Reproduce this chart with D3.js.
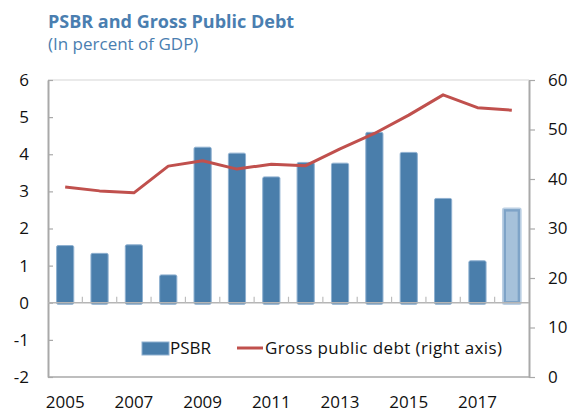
<!DOCTYPE html>
<html>
<head>
<meta charset="utf-8">
<script src="https://cdn.jsdelivr.net/npm/d3@7"></script>
<style>
  html, body { margin: 0; padding: 0; background: #fff; }
  svg { display: block; font-family: "Open Sans", "Noto Sans", sans-serif; }
</style>
</head>
<body>
<svg id="chart" width="568" height="413"></svg>
<script>
// Public sector borrowing requirement and gross public debt, percent of GDP
const years = [2005, 2006, 2007, 2008, 2009, 2010, 2011, 2012, 2013, 2014, 2015, 2016, 2017, 2018];
const psbr = [1.54, 1.33, 1.56, 0.75, 4.19, 4.03, 3.39, 3.78, 3.76, 4.59, 4.05, 2.81, 1.13, 2.53];
const grossDebt = [38.4, 37.6, 37.2, 42.6, 43.7, 42.0, 43.0, 42.7, 46.1, 49.2, 52.9, 57.0, 54.4, 53.9];
const projectionYears = [2018];
const leftTicks = [-2, -1, 0, 1, 2, 3, 4, 5, 6];
const rightTicks = [0, 10, 20, 30, 40, 50, 60];
const xTickLabels = [2005, 2007, 2009, 2011, 2013, 2015, 2017];

const svg = d3.select("#chart");
const W = 568, H = 413;
const m = { top: 80, right: 39, bottom: 36, left: 48 };
const x0 = m.left, x1 = W - m.right, y0 = H - m.bottom, y1 = m.top;

const x = d3.scaleBand().domain(years).range([x0, x1]).paddingInner(0.5).paddingOuter(0.25);
const yL = d3.scaleLinear().domain([-2, 6]).range([y0, y1]);
const yR = d3.scaleLinear().domain([0, 60]).range([y0, y1]);

const axisColor = "#a9a9a9";
const blue = "#4a7eab";
const red = "#c0504d";
const fontStack = "\"Open Sans\", \"Noto Sans\", sans-serif";
const labelSize = 17;

// Title
svg.append("text").attr("x", 48).attr("y", 28)
  .attr("fill", "#4a7eb0").attr("font-size", 18).attr("font-weight", "bold")
  .text("PSBR and Gross Public Debt");
svg.append("text").attr("x", 48).attr("y", 50)
  .attr("fill", "#4a7eb0").attr("font-size", 17)
  .text("(In percent of GDP)");

// Plot frame: light top border, bottom border
svg.append("line").attr("x1", x0).attr("x2", x1).attr("y1", y1).attr("y2", y1)
  .attr("stroke", "#e3e3e3").attr("stroke-width", 1.5);
svg.append("line").attr("x1", x0).attr("x2", x1).attr("y1", y0).attr("y2", y0)
  .attr("stroke", axisColor).attr("stroke-width", 1.5);

// Left axis
const gL = svg.append("g").attr("transform", `translate(${x0},0)`)
  .call(d3.axisLeft(yL).tickValues(leftTicks).tickSize(-5).tickSizeOuter(0).tickPadding(19).tickFormat(d3.format("d")));
gL.select(".domain").attr("stroke", axisColor).attr("stroke-width", 2);
gL.selectAll(".tick line").attr("stroke", axisColor).attr("stroke-width", 1.2);
gL.selectAll(".tick text").attr("font-size", labelSize).attr("fill", "#111")
  .attr("font-family", fontStack)
  .text(d => d < 0 ? "-" + Math.abs(d) : d);

// Right axis
const gR = svg.append("g").attr("transform", `translate(${x1},0)`)
  .call(d3.axisRight(yR).tickValues(rightTicks).tickSize(6).tickSizeOuter(0).tickPadding(13));
gR.select(".domain").attr("stroke", axisColor).attr("stroke-width", 2);
gR.selectAll(".tick line").attr("stroke", axisColor).attr("stroke-width", 1.2);
gR.selectAll(".tick text").attr("font-size", labelSize).attr("fill", "#111")
  .attr("font-family", fontStack);

// Year labels along the bottom
const gX = svg.append("g").attr("transform", `translate(0,${y0})`)
  .call(d3.axisBottom(x).tickValues(xTickLabels).tickSize(0).tickPadding(19));
gX.select(".domain").remove();
gX.selectAll(".tick text").attr("font-size", labelSize).attr("fill", "#111")
  .attr("font-family", fontStack);

// Bars
const bw = x.bandwidth();
svg.append("g").selectAll("rect.bar")
  .data(years.map((yr, i) => ({ yr, v: psbr[i] })).filter(d => !projectionYears.includes(d.yr)))
  .join("rect")
  .attr("class", "bar")
  .attr("x", d => x(d.yr))
  .attr("y", d => Math.min(yL(d.v), yL(0)))
  .attr("width", bw)
  .attr("height", d => Math.abs(yL(0) - yL(d.v)) + 1.5)
  .attr("rx", 1.5)
  .attr("fill", blue)
  .attr("stroke", "#8eb0d0").attr("stroke-width", 1);

// Projected bar
const proj = years.map((yr, i) => ({ yr, v: psbr[i] })).filter(d => projectionYears.includes(d.yr));
const pg = svg.append("g");
pg.selectAll("rect.outer").data(proj).join("rect")
  .attr("x", d => x(d.yr) - 0.5).attr("y", d => yL(d.v) - 0.5)
  .attr("width", bw + 1).attr("height", d => yL(0) - yL(d.v) + 2)
  .attr("fill", "none").attr("stroke", "#bcd0e4").attr("stroke-width", 1.5).attr("rx", 1.5);
pg.selectAll("rect.inner").data(proj).join("rect")
  .attr("x", d => x(d.yr) + 1.5).attr("y", d => yL(d.v) + 1.5)
  .attr("width", bw - 3).attr("height", d => yL(0) - yL(d.v) - 2)
  .attr("fill", "#a6c1da").attr("stroke", "#7ea3c7").attr("stroke-width", 2.5);

// Zero line with category separators
svg.append("line").attr("x1", x0).attr("x2", x1).attr("y1", yL(0)).attr("y2", yL(0))
  .attr("stroke", "#b5b5b5").attr("stroke-width", 1.5);
svg.append("g").selectAll("line").data(years.slice(1)).join("line")
  .attr("x1", d => x(d) - x.step() * x.paddingInner() / 2)
  .attr("x2", d => x(d) - x.step() * x.paddingInner() / 2)
  .attr("y1", yL(0)).attr("y2", yL(0) - 6)
  .attr("stroke", "#bdbdbd").attr("stroke-width", 1.2);

// Debt line on right axis
const line = d3.line().x((d, i) => x(years[i]) + bw / 2).y(d => yR(d));
svg.append("path").datum(grossDebt).attr("d", line)
  .attr("fill", "none").attr("stroke", red).attr("stroke-width", 3)
  .attr("stroke-linejoin", "round");

// Legend
const lg = svg.append("g");
lg.append("rect").attr("x", 142).attr("y", 342).attr("width", 27).attr("height", 13)
  .attr("fill", blue).attr("stroke", "#8eb0d0").attr("stroke-width", 1);
lg.append("text").attr("x", 170).attr("y", 354).attr("font-size", labelSize).attr("fill", "#111").text("PSBR");
lg.append("line").attr("x1", 237).attr("x2", 263).attr("y1", 348).attr("y2", 348)
  .attr("stroke", red).attr("stroke-width", 3);
lg.append("text").attr("x", 265).attr("y", 354).attr("font-size", labelSize).attr("fill", "#111")
  .attr("textLength", 237).attr("lengthAdjust", "spacing")
  .text("Gross public debt (right axis)");
</script>
</body>
</html>
